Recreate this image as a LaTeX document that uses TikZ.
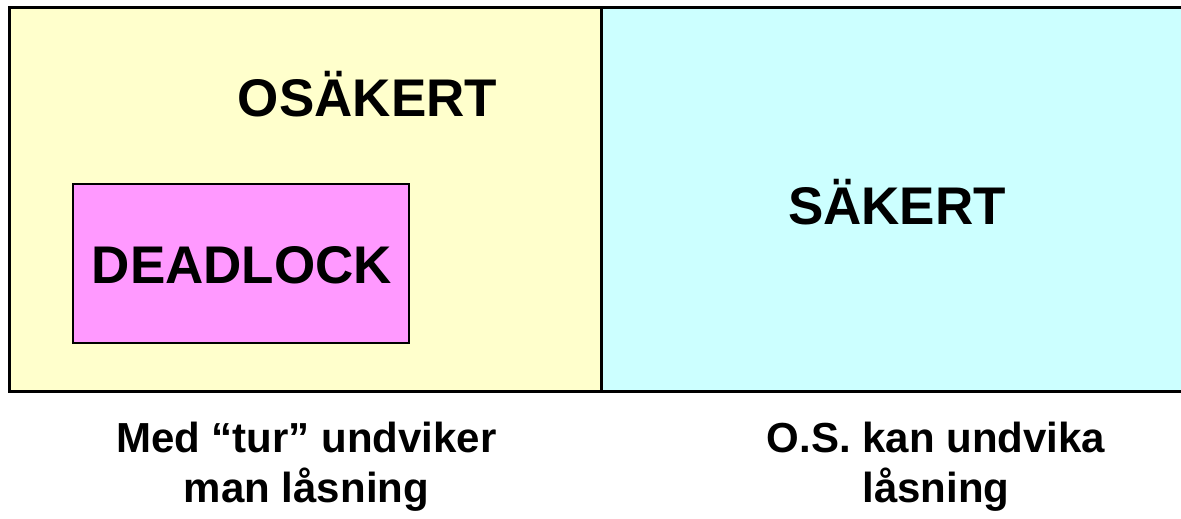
\documentclass[tikz,border=0pt]{standalone}
\usepackage{fontspec}
\setmainfont{Liberation Sans}
\definecolor{unsafeyellow}{HTML}{FFFFCC}
\definecolor{safecyan}{HTML}{CCFFFF}
\definecolor{deadpink}{HTML}{FF99FF}
\begin{document}
\begin{tikzpicture}[x=1pt,y=-1pt,
  region/.style={draw=black,line width=3pt,minimum width=#1,inner sep=0pt,minimum height=383pt},
  bigtext/.style={font=\fontsize{53}{60}\selectfont\bfseries,inner sep=0pt,anchor=base},
  captext/.style={font=\fontsize{42}{50}\selectfont\bfseries,inner sep=0pt,align=center,anchor=center}]
\useasboundingbox (0,0) rectangle (1181,519);
\clip (0,0) rectangle (1181,519);
\fill[white] (0,0) rectangle (1181,519);
\node[region=594pt,fill=safecyan] (safe) at (898,199.5) {};
\node[region=592pt,fill=unsafeyellow] (unsafe) at (305,199.5) {};
\node[draw=black,line width=2.5pt,fill=deadpink,minimum width=336pt,minimum height=159pt,inner sep=0pt] (dead) at (241,263.5) {};
\node[bigtext] (tunsafe) at (367.5,116) {OSÄKERT};
\node[bigtext] (tsafe) at (897,224) {SÄKERT};
\node[bigtext] (tdead) at (242,283) {DEADLOCK};
\node[captext] (capl) at (306.5,467) {Med “tur” undviker\\man låsning};
\node[captext] (capr) at (936,467) {O.S. kan undvika\\låsning};
\end{tikzpicture}
\end{document}
